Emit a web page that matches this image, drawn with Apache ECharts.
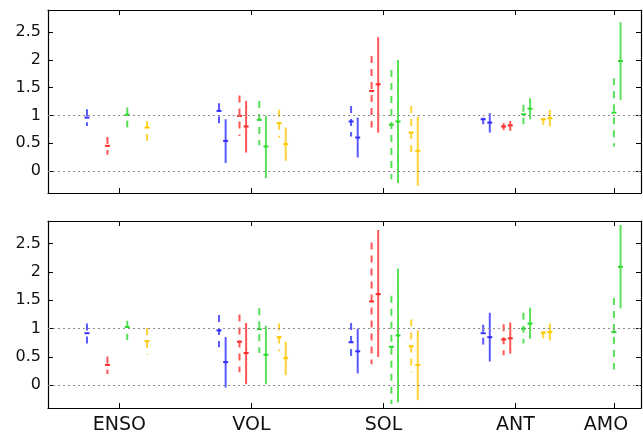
<!DOCTYPE html>
<html>
<head>
<meta charset="utf-8">
<script src="https://cdn.jsdelivr.net/npm/echarts@6/dist/echarts.min.js"></script>
<style>
  html, body { margin: 0; padding: 0; background: #fff; }
  #chart { width: 643px; height: 435px; }
</style>
</head>
<body>
<div id="chart"></div>
<script>
// categories and where they sit on the x axis
const groups = ['ENSO', 'VOL', 'SOL', 'ANT', 'AMO']
const groupX = [1, 2, 3, 4, 4.685]
const tickX = [1, 2, 3, 4, 4.745]
const yTicks = [0, 0.5, 1, 1.5, 2, 2.5]

// each entry: [low, centre, high], null = no bar
// top panel
const topBlueDash = [[0.81, 0.96, 1.11], [0.86, 1.08, 1.22], [0.62, 0.89, 1.17], [0.84, 0.93, 0.96], null]
const topBlueSolid = [null, [0.14, 0.54, 0.93], [0.24, 0.60, 0.96], [0.69, 0.87, 1.04], null]
const topRedDash = [[0.29, 0.45, 0.61], [0.63, 0.99, 1.36], [0.78, 1.44, 2.07], [0.72, 0.80, 0.86], null]
const topRedSolid = [null, [0.33, 0.80, 1.26], [0.69, 1.56, 2.41], [0.72, 0.82, 0.90], null]
const topGreenDash = [[0.78, 1.01, 1.14], [0.46, 0.92, 1.26], [-0.15, 0.83, 1.82], [0.84, 1.02, 1.19], [0.44, 1.05, 1.67]]
const topGreenSolid = [null, [-0.13, 0.44, 0.99], [-0.22, 0.89, 2.00], [0.93, 1.12, 1.31], [1.28, 1.98, 2.68]]
const topOrangeDash = [[0.54, 0.78, 0.90], [0.60, 0.86, 1.10], [0.23, 0.69, 1.17], [0.83, 0.93, 0.95], null]
const topOrangeSolid = [null, [0.18, 0.48, 0.78], [-0.27, 0.36, 0.98], [0.80, 0.95, 1.10], null]

// bottom panel
const botBlueDash = [[0.74, 0.92, 1.09], [0.67, 0.97, 1.24], [0.42, 0.76, 1.10], [0.72, 0.92, 1.07], null]
const botBlueSolid = [null, [-0.04, 0.41, 0.85], [0.21, 0.60, 1.00], [0.42, 0.85, 1.28], null]
const botRedDash = [[0.20, 0.36, 0.51], [0.23, 0.77, 1.25], [0.37, 1.48, 2.52], [0.53, 0.81, 1.08], null]
const botRedSolid = [null, [0.02, 0.57, 1.10], [0.50, 1.61, 2.74], [0.56, 0.83, 1.11], null]
const botGreenDash = [[0.80, 1.03, 1.14], [0.57, 0.99, 1.36], [-0.33, 0.68, 1.58], [0.74, 1.00, 1.28], [0.28, 0.94, 1.54]]
const botGreenSolid = [null, [0.02, 0.54, 1.05], [-0.30, 0.88, 2.06], [0.82, 1.09, 1.37], [1.36, 2.09, 2.83]]
const botOrangeDash = [[0.54, 0.78, 1.01], [0.60, 0.85, 1.09], [0.23, 0.69, 1.16], [0.83, 0.93, 0.95], null]
const botOrangeSolid = [null, [0.18, 0.48, 0.77], [-0.26, 0.36, 0.97], [0.79, 0.94, 1.09], null]

const colors = { blue: '#2f2fff', red: '#ff2a2a', green: '#2fd82f', orange: '#ffc800' }
const dashOffset = { blue: -0.245, red: -0.09, green: 0.06, orange: 0.21 }
const solidShift = 0.05

const chart = echarts.init(document.getElementById('chart'))

// turn [lo, mid, hi] lists into [x, lo, mid, hi] rows
function toRows(list, offset) {
  const rows = []
  list.forEach((v, i) => {
    if (v) rows.push([groupX[i] + offset, v[0], v[1], v[2]])
  })
  return rows
}

function barRenderer(dashed) {
  return function (params, api) {
    const x = api.value(0)
    const lo = api.coord([x, api.value(1)])
    const mid = api.coord([x, api.value(2)])
    const hi = api.coord([x, api.value(3)])
    const color = api.visual('color')
    return {
      type: 'group',
      children: [
        {
          type: 'line',
          shape: { x1: hi[0], y1: hi[1], x2: lo[0], y2: lo[1] },
          style: { stroke: color, lineWidth: 2, lineDash: dashed ? [7, 6] : null, opacity: 0.8 }
        },
        {
          type: 'rect',
          shape: { x: mid[0] - 2.5, y: mid[1] - 1, width: 5, height: 2 },
          style: { fill: color }
        }
      ]
    }
  }
}

function barSeries(list, color, dashed, idx) {
  const offset = dashOffset[color] + (dashed ? 0 : solidShift)
  return {
    type: 'custom',
    xAxisIndex: idx * 2,
    yAxisIndex: idx * 2,
    renderItem: barRenderer(dashed),
    encode: { x: 0, y: [1, 2, 3] },
    itemStyle: { color: colors[color] },
    data: toRows(list, offset),
    z: 3
  }
}

function gridLineSeries(idx) {
  return {
    type: 'line',
    xAxisIndex: idx * 2,
    yAxisIndex: idx * 2,
    data: [],
    z: 1,
    markLine: {
      silent: true,
      symbol: 'none',
      label: { show: false },
      lineStyle: { type: [2, 3], color: '#8a8a8a', width: 1 },
      data: [{ yAxis: 0 }, { yAxis: 1 }]
    }
  }
}

function xAxes(idx) {
  const base = {
    type: 'value',
    gridIndex: idx,
    min: 0.46,
    max: 4.95,
    splitLine: { show: false },
    axisLine: { show: true, onZero: false, lineStyle: { color: '#000', width: 1.2 } },
    axisTick: { show: true, inside: true, length: 5, customValues: tickX, lineStyle: { color: '#000' } }
  }
  return [
    Object.assign({}, base, {
      position: 'bottom',
      axisLabel: {
        show: idx === 1,
        customValues: tickX,
        // AMO label sits a little left of its tick in the original
        formatter: v => {
          const name = groups[tickX.indexOf(v)] || ''
          return name === 'AMO' ? '{amo|' + name + '}' : name
        },
        rich: {
          amo: { fontSize: 19, fontFamily: 'DejaVu Sans', color: '#111', padding: [0, 16, 0, 0] }
        },
        color: '#111',
        fontSize: 19,
        fontFamily: 'DejaVu Sans',
        margin: 8
      }
    }),
    Object.assign({}, base, { position: 'top', axisLabel: { show: false } })
  ]
}

function yAxes(idx) {
  const base = {
    type: 'value',
    gridIndex: idx,
    min: -0.4,
    max: 2.9,
    splitLine: { show: false },
    axisLine: { show: true, onZero: false, lineStyle: { color: '#000', width: 1.2 } },
    axisTick: { show: true, inside: true, length: 5, customValues: yTicks, lineStyle: { color: '#000' } }
  }
  return [
    Object.assign({}, base, {
      position: 'left',
      axisLabel: {
        customValues: yTicks,
        formatter: v => String(v),
        color: '#111',
        fontSize: 16,
        fontFamily: 'DejaVu Sans',
        margin: 7
      }
    }),
    Object.assign({}, base, { position: 'right', axisLabel: { show: false } })
  ]
}

const panels = [
  [topBlueDash, topBlueSolid, topRedDash, topRedSolid, topGreenDash, topGreenSolid, topOrangeDash, topOrangeSolid],
  [botBlueDash, botBlueSolid, botRedDash, botRedSolid, botGreenDash, botGreenSolid, botOrangeDash, botOrangeSolid]
]
const order = ['blue', 'red', 'green', 'orange']

const series = []
panels.forEach((lists, p) => {
  series.push(gridLineSeries(p))
  order.forEach((c, k) => {
    series.push(barSeries(lists[k * 2], c, true, p))
    series.push(barSeries(lists[k * 2 + 1], c, false, p))
  })
})

const option = {
  animation: false,
  backgroundColor: '#fff',
  grid: [
    { left: 48, right: 2, top: 10, height: 183 },
    { left: 48, right: 2, top: 221, height: 188 }
  ],
  xAxis: [].concat(xAxes(0), xAxes(1)),
  yAxis: [].concat(yAxes(0), yAxes(1)),
  series: series
}

chart.setOption(option)
</script>
</body>
</html>
